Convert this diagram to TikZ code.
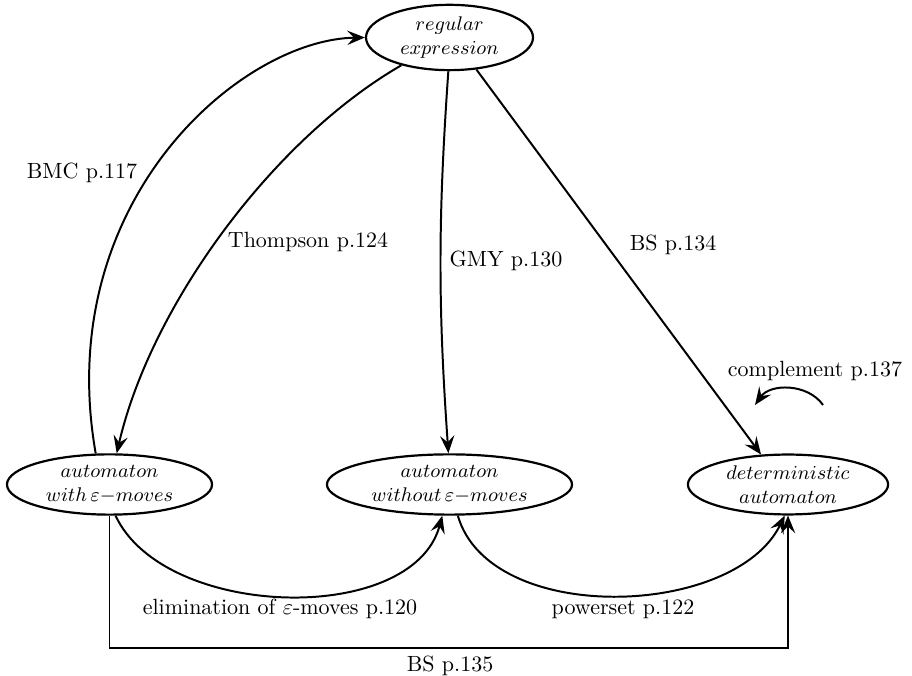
\documentclass[tikz,border=0pt]{standalone}
\usepackage{amsmath,amssymb}
\usepackage{tikz}
\usetikzlibrary{shapes.geometric, arrows.meta, positioning}

\begin{document}
\begin{tikzpicture}[
    x=0.4545pt, y=0.4545pt,
    state/.style={ellipse, draw, line width=1pt, inner sep=1pt, align=center, font=\small, minimum height=25.9pt},
    arrow/.style={-{Stealth[length=8pt, width=6.5pt, inset=3pt]}, line width=0.9pt},
    lbl/.style={font=\normalsize}
]
\useasboundingbox (0,0) rectangle (912,676);

% States
\node[state, minimum width=75.9pt, minimum height=27.7pt] (regex) at (449.5,638.5) {$regular$\\$expression$};
\node[state, minimum width=93.2pt] (withe) at (109.5,191.5) {$automaton$\\$with\,\varepsilon{-}moves$};
\node[state, minimum width=111.4pt] (without) at (449.5,191.5) {$automaton$\\$without\,\varepsilon{-}moves$};
\node[state, minimum width=91pt] (det) at (788,191.5) {$deterministic$\\$automaton$};

% Complement loop ends
\coordinate (cstart) at (823,271);
\coordinate (cend) at (755,271);

% Arrows from regular expression
\draw[arrow] (withe.114) .. controls +(100:255) and +(181:125) .. (regex.west);
\draw[arrow] (regex.210) .. controls +(210:150) and +(77:150) .. (withe.77);
\draw[arrow] (regex.268) to[bend right=4] (without.92);
\draw[arrow] (regex.310) -- (det.132);
\draw[arrow] (cstart) to[bend right=55] (cend);

% Arrows between automata
\draw[arrow] (withe.-79) to[out=-65, in=-105, looseness=0.9] (without.-103);
\draw[arrow] (without.-75) to[out=-74, in=-116, looseness=0.9] (det.-96);
\draw[arrow] (withe.south) -- ++(0,-132) -| (det.south);

% Labels
\node[lbl] (bmc) at (82,503) {BMC p.117};
\node[lbl] (thompson) at (308,434) {Thompson p.124};
\node[lbl] (gmy) at (506,415) {GMY p.130};
\node[lbl] (bs1) at (673,431) {BS p.134};
\node[lbl] (compl) at (815,305) {complement p.137};
\node[lbl] (elim) at (280,67) {elimination of $\varepsilon$-moves p.120};
\node[lbl] (powerset) at (623,67) {powerset p.122};
\node[lbl] (bs2) at (450,10) {BS p.135};
\end{tikzpicture}
\end{document}
